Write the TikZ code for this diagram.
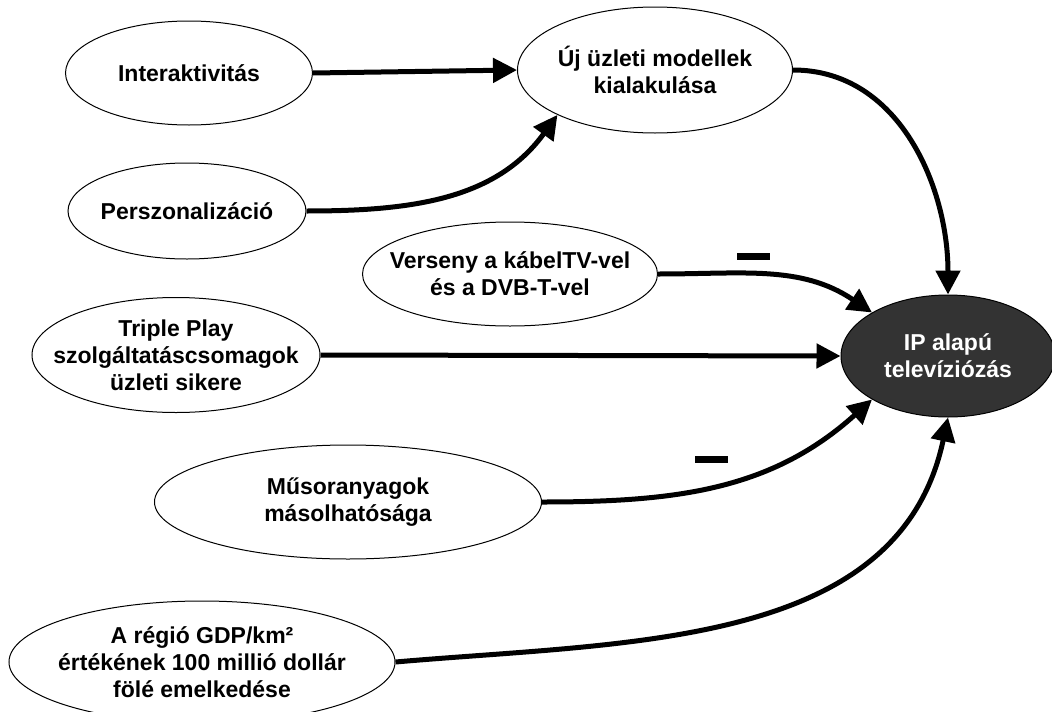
\documentclass[tikz,border=0pt]{standalone}
\usepackage{fontspec}
\setmainfont{Liberation Sans}
\usetikzlibrary{positioning}
\usetikzlibrary{shapes.geometric}
\usetikzlibrary {arrows.meta}
\definecolor{darkgrey}{RGB}{51,51,51}
\tikzset{factor/.style={ellipse,draw=black,fill=white,line width=1pt,
inner xsep=-80pt,inner ysep=-40pt,align=center,font=\fontsize{23}{27}\selectfont\bfseries}}
\tikzset{goal/.style={factor,fill=darkgrey,text=white}}
\tikzset{effect/.style={line width=5pt,-{Triangle[length=24pt,width=24pt]}}}
\tikzset{negmark/.style={rectangle,draw=none,fill=black,
inner sep=0pt,minimum width=33pt,minimum height=7pt}}

\begin{document}
\begin{tikzpicture}[x=1pt,y=-1pt]
        \useasboundingbox (0,0) rectangle (1052,712);

        \node[factor,minimum width=247pt,minimum height=104pt] (inter) at (189,73) {Interaktivitás};
        \node[factor,minimum width=238pt,minimum height=96pt] (persz) at (187,211) {Perszonalizáció};
        \node[factor,minimum width=275pt,minimum height=126pt] (uj) at (655,70) {Új üzleti modellek\\kialakulása};
        \node[factor,minimum width=295pt,minimum height=104pt] (verseny) at (510,274) {Verseny a kábelTV-vel\\és a DVB-T-vel};
        \node[factor,minimum width=288pt,minimum height=115pt] (triple) at (176,355) {Triple Play\\szolgáltatáscsomagok\\üzleti sikere};
        \node[factor,minimum width=387pt,minimum height=114pt] (musor) at (348,502) {Műsoranyagok\\másolhatósága};
        \node[factor,minimum width=386pt,minimum height=122pt] (regio) at (202,662) {A régió GDP/km²\\értékének 100 millió dollár\\fölé emelkedése};

        \node[goal,minimum width=214pt,minimum height=122pt] (ip) at (948,356) {IP alapú\\televíziózás};

        \node[negmark] (neg1) at (753,256) {};
        \node[negmark] (neg2) at (711,459) {};

        \draw[effect] (inter.east) -- (uj.west);
        \draw[effect] (persz.east) to[out=0,in=234] (uj.south west);
        \draw[effect] (uj.east) to[out=0,in=90] (ip.north);
        \draw[effect] (verseny.east) to[out=0,in=146] (ip.north west);
        \draw[effect] (triple.east) -- (ip.west);
        \draw[effect] (musor.east) to[out=0,in=222] (ip.south west);
        \draw[effect] (regio.east) to[out=5,in=258] (ip.south);

\end{tikzpicture}
\end{document}
